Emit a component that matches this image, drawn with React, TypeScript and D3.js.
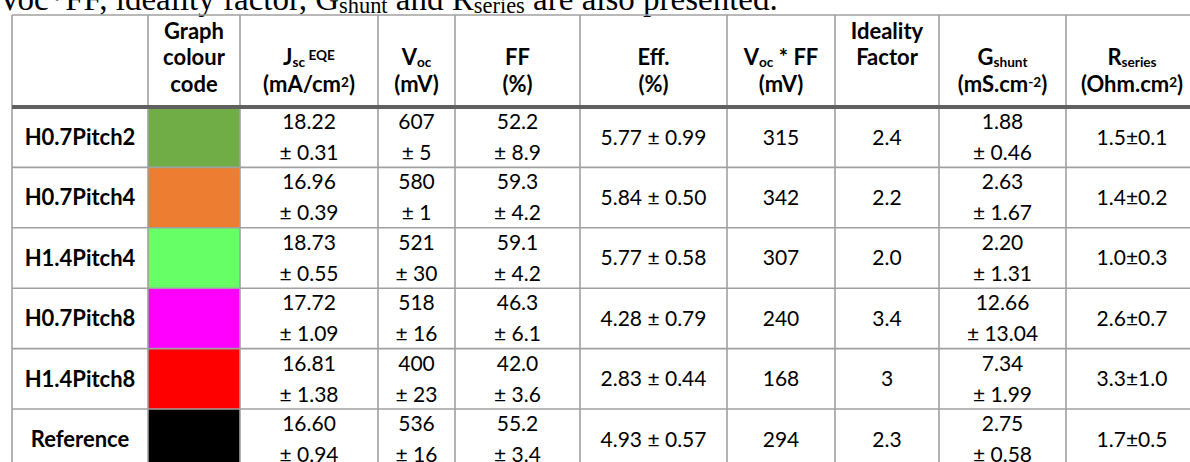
import React from 'react';
import * as d3 from 'd3';

// table rows
const rowNames = ['H0.7Pitch2', 'H0.7Pitch4', 'H1.4Pitch4', 'H0.7Pitch8', 'H1.4Pitch8', 'Reference'];
const graphColours = ['#70AD47', '#ED7D31', '#66FF66', '#FF00FF', '#FF0000', '#000000'];

// values and errors, per column
const jsc = ['18.22', '16.96', '18.73', '17.72', '16.81', '16.60'];
const jscErr = ['0.31', '0.39', '0.55', '1.09', '1.38', '0.94'];
const voc = ['607', '580', '521', '518', '400', '536'];
const vocErr = ['5', '1', '30', '16', '23', '16'];
const ff = ['52.2', '59.3', '59.1', '46.3', '42.0', '55.2'];
const ffErr = ['8.9', '4.2', '4.2', '6.1', '3.6', '3.4'];
const eff = ['5.77', '5.84', '5.77', '4.28', '2.83', '4.93'];
const effErr = ['0.99', '0.50', '0.58', '0.79', '0.44', '0.57'];
const vocFF = ['315', '342', '307', '240', '168', '294'];
const ideality = ['2.4', '2.2', '2.0', '3.4', '3', '2.3'];
const gShunt = ['1.88', '2.63', '2.20', '12.66', '7.34', '2.75'];
const gShuntErr = ['0.46', '1.67', '1.31', '13.04', '1.99', '0.58'];
const rSeries = ['1.5', '1.4', '1.0', '2.6', '3.3', '1.7'];
const rSeriesErr = ['0.1', '0.2', '0.3', '0.7', '1.0', '0.5'];

type Seg = { t: string; sub?: boolean; sup?: boolean };
// header lines: line index + segments
const headers: { line: number; segs: Seg[] }[][] = [
  [],
  [
    { line: 0, segs: [{ t: 'Graph' }] },
    { line: 1, segs: [{ t: 'colour' }] },
    { line: 2, segs: [{ t: 'code' }] },
  ],
  [
    { line: 1, segs: [{ t: 'J' }, { t: 'sc', sub: true }, { t: ' EQE', sup: true }] },
    { line: 2, segs: [{ t: '(mA/cm' }, { t: '2', sup: true }, { t: ')' }] },
  ],
  [
    { line: 1, segs: [{ t: 'V' }, { t: 'oc', sub: true }] },
    { line: 2, segs: [{ t: '(mV)' }] },
  ],
  [
    { line: 1, segs: [{ t: 'FF' }] },
    { line: 2, segs: [{ t: '(%)' }] },
  ],
  [
    { line: 1, segs: [{ t: 'Eff.' }] },
    { line: 2, segs: [{ t: '(%)' }] },
  ],
  [
    { line: 1, segs: [{ t: 'V' }, { t: 'oc', sub: true }, { t: ' * FF' }] },
    { line: 2, segs: [{ t: '(mV)' }] },
  ],
  [
    { line: 0, segs: [{ t: 'Ideality' }] },
    { line: 1, segs: [{ t: 'Factor' }] },
  ],
  [
    { line: 1, segs: [{ t: 'G' }, { t: 'shunt', sub: true }] },
    { line: 2, segs: [{ t: '(mS.cm' }, { t: '-2', sup: true }, { t: ')' }] },
  ],
  [
    { line: 1, segs: [{ t: 'R' }, { t: 'series', sub: true }] },
    { line: 2, segs: [{ t: '(Ohm.cm' }, { t: '2', sup: true }, { t: ')' }] },
  ],
];

const colEdges = [12, 148, 240, 378, 455, 580, 727, 835, 939, 1066, 1198];

const width = 1190;
const height = 462;
const tableTop = 15;
const headerBottom = 107;
const rowH = 60.4;
const font = 'Lato, "Open Sans", sans-serif';
const fs = 21;
const fsBold = 22;
const gridColor = '#a0a0a0';

const renderSegs = (segs: Seg[], size: number, small = 0.62) =>
  segs.map((s, i) => (
    <tspan
      key={i}
      fontSize={s.sub || s.sup ? size * small : size}
      baselineShift={s.sub ? '-15%' : s.sup ? '36%' : undefined}
    >
      {s.t}
    </tspan>
  ));

export default function App() {
  const yRow = d3
    .scaleBand<string>()
    .domain(rowNames)
    .range([headerBottom, headerBottom + rowH * rowNames.length]);
  const headLine = d3.scaleLinear().domain([0, 2]).range([31, 84]);
  const colMid = (c: number) => (colEdges[c] + colEdges[c + 1]) / 2;

  const twoLine = (v: string[], e: string[]) => (i: number) => [v[i], `± ${e[i]}`];
  const cells: ((i: number) => string[])[] = [
    twoLine(jsc, jscErr),
    twoLine(voc, vocErr),
    twoLine(ff, ffErr),
    (i) => [`${eff[i]} ± ${effErr[i]}`],
    (i) => [vocFF[i]],
    (i) => [ideality[i]],
    twoLine(gShunt, gShuntErr),
    (i) => [`${rSeries[i]}±${rSeriesErr[i]}`],
  ];

  const bottom = headerBottom + rowH * rowNames.length;
  const right = colEdges[colEdges.length - 1];

  return (
    <svg
      width={width}
      height={height}
      style={{ position: 'absolute', left: 0, top: 0, background: '#fff' }}
    >
      {/* caption, cut at the top */}
      <text
        x={-2}
        y={10}
        fontFamily='"Liberation Serif", "Times New Roman", serif'
        fontSize={33}
        fill="#000"
      >
        {renderSegs(
          [
            { t: 'Voc*FF, ideality factor, G' },
            { t: 'shunt', sub: true },
            { t: ' and R' },
            { t: 'series', sub: true },
            { t: ' are also presented.' },
          ],
          33,
          0.68
        )}
      </text>

      {/* colour code cells */}
      {rowNames.map((r, i) => (
        <rect
          key={r}
          x={colEdges[1]}
          y={yRow(r)}
          width={colEdges[2] - colEdges[1]}
          height={yRow.bandwidth()}
          fill={graphColours[i]}
        />
      ))}

      {/* grid */}
      <g stroke={gridColor} strokeWidth={1.6}>
        <line x1={colEdges[0]} x2={right} y1={tableTop} y2={tableTop} />
        {colEdges.map((x, i) => (
          <line key={i} x1={x} x2={x} y1={tableTop} y2={bottom} />
        ))}
        {rowNames.slice(1).map((r) => (
          <line key={r} x1={colEdges[0]} x2={right} y1={yRow(r)} y2={yRow(r)} />
        ))}
      </g>
      <line
        x1={colEdges[0]}
        x2={right}
        y1={headerBottom}
        y2={headerBottom}
        stroke="#606060"
        strokeWidth={4}
      />

      {/* header */}
      <g fontFamily={font} fontWeight="bold" fontSize={fsBold} textAnchor="middle" fill="#000">
        {headers.map((h, c) =>
          h.map((ln, k) => (
            <text key={`${c}-${k}`} x={colMid(c)} y={headLine(ln.line)} dy="0.35em">
              {renderSegs(ln.segs, fsBold)}
            </text>
          ))
        )}
      </g>

      {/* body */}
      <g fontFamily={font} fontSize={fs} textAnchor="middle" fill="#000">
        {rowNames.map((r, i) => {
          const cy = (yRow(r) as number) + yRow.bandwidth() / 2;
          return (
            <g key={r}>
              <text x={colMid(0)} y={cy} dy="0.35em" fontWeight="bold" fontSize={fsBold}>
                {r}
              </text>
              {cells.map((f, c) => {
                const lines = f(i);
                return lines.map((t, k) => (
                  <text
                    key={`${c}-${k}`}
                    x={colMid(c + 2)}
                    y={cy + (k - (lines.length - 1) / 2) * 31}
                    dy="0.35em"
                  >
                    {t}
                  </text>
                ));
              })}
            </g>
          );
        })}
      </g>
    </svg>
  );
}
